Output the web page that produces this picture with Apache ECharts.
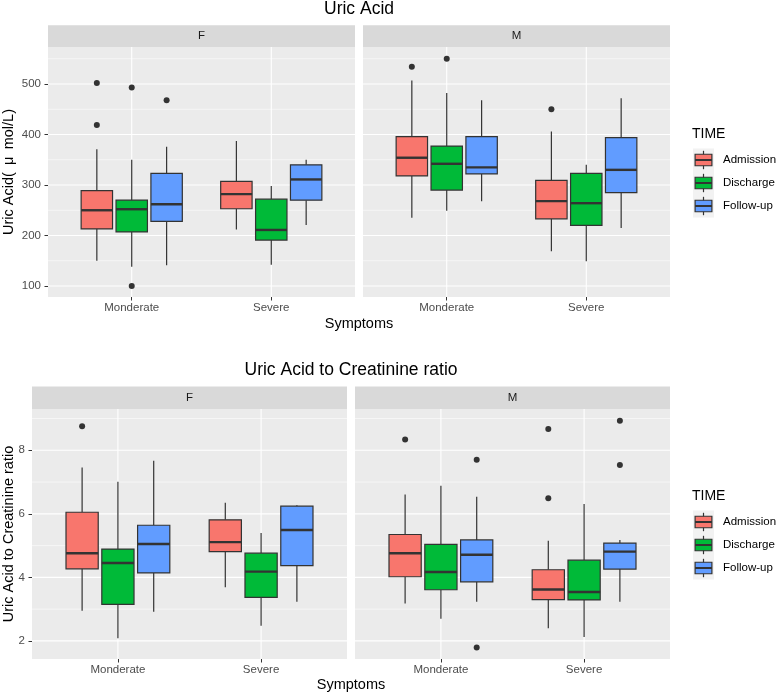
<!DOCTYPE html>
<html><head><meta charset="utf-8">
<script src="https://cdn.jsdelivr.net/npm/echarts@6/dist/echarts.min.js"></script>
<style>html,body{margin:0;padding:0;background:#fff}#c{width:778px;height:696px}</style>
</head><body><div id="c"></div>
<script>
// ---------- DATA ----------
const categories = ['Monderate', 'Severe'];
const timeGroups = ['Admission', 'Discharge', 'Follow-up'];
const sexes = ['F', 'M'];
const timeColors = ['#F8766D', '#00BA38', '#619CFF'];

// Uric acid: [lower whisker, Q1, median, Q3, upper whisker] per category
const uaF_Admission = [[150, 213, 250, 289, 371], [212, 253, 282, 307, 387]];
const uaF_Discharge = [[138, 207, 252, 270, 350], [142, 191, 211, 272, 298]];
const uaF_Followup  = [[141, 228, 262, 323, 376], [221, 270, 311, 340, 350]];
const uaM_Admission = [[235, 318, 354, 396, 507], [169, 233, 268, 309, 406]];
const uaM_Discharge = [[249, 290, 342, 377, 482], [149, 220, 264, 323, 340]];
const uaM_Followup  = [[268, 322, 335, 396, 468], [215, 285, 330, 394, 472]];
// outliers per category
const uaF_Admission_out = [[502, 419], []];
const uaF_Discharge_out = [[493, 100], []];
const uaF_Followup_out  = [[468], []];
const uaM_Admission_out = [[534], [450]];
const uaM_Discharge_out = [[550], []];
const uaM_Followup_out  = [[], []];

// Uric acid to creatinine ratio
const rF_Admission = [[2.95, 4.27, 4.76, 6.05, 7.46], [3.69, 4.81, 5.11, 5.81, 6.35]];
const rF_Discharge = [[2.08, 3.15, 4.45, 4.89, 7.01], [2.48, 3.37, 4.18, 4.76, 5.40]];
const rF_Followup  = [[2.92, 4.14, 5.05, 5.64, 7.67], [3.23, 4.37, 5.49, 6.24, 6.27]];
const rM_Admission = [[3.18, 4.02, 4.76, 5.35, 6.61], [2.40, 3.30, 3.62, 4.24, 5.15]];
const rM_Discharge = [[2.70, 3.61, 4.17, 5.04, 6.88], [2.12, 3.29, 3.54, 4.54, 6.31]];
const rM_Followup  = [[3.23, 3.86, 4.71, 5.18, 6.54], [3.23, 4.26, 4.81, 5.08, 5.18]];
const rF_Admission_out = [[8.76], []];
const rF_Discharge_out = [[], []];
const rF_Followup_out  = [[], []];
const rM_Admission_out = [[8.34], [8.67, 6.49]];
const rM_Discharge_out = [[], []];
const rM_Followup_out  = [[7.70, 1.79], [8.93, 7.54]];

const uaTicks = [100, 200, 300, 400, 500];
const uaMinor = [150, 250, 350, 450, 550];
const ratioTicks = [2, 4, 6, 8];
const ratioMinor = [3, 5, 7, 9];

// ---------- LAYOUT ----------
const FONT = '"Liberation Sans", Arial, Helvetica, sans-serif';
const DODGE = 0.25, BOX_HALF = 0.1125;
const offsets = [-DODGE, 0, DODGE];

const panels = [
  { sex: 'F', stats: [uaF_Admission, uaF_Discharge, uaF_Followup], outs: [uaF_Admission_out, uaF_Discharge_out, uaF_Followup_out],
    ticks: uaTicks, minor: uaMinor, min: 78.2, max: 573.3, showY: true, grid: { left: 48, top: 47, width: 307, height: 250 } },
  { sex: 'M', stats: [uaM_Admission, uaM_Discharge, uaM_Followup], outs: [uaM_Admission_out, uaM_Discharge_out, uaM_Followup_out],
    ticks: uaTicks, minor: uaMinor, min: 78.2, max: 573.3, showY: false, grid: { left: 363, top: 47, width: 307, height: 250 } },
  { sex: 'F', stats: [rF_Admission, rF_Discharge, rF_Followup], outs: [rF_Admission_out, rF_Discharge_out, rF_Followup_out],
    ticks: ratioTicks, minor: ratioMinor, min: 1.43, max: 9.30, showY: true, grid: { left: 32, top: 409, width: 315, height: 250 } },
  { sex: 'M', stats: [rM_Admission, rM_Discharge, rM_Followup], outs: [rM_Admission_out, rM_Discharge_out, rM_Followup_out],
    ticks: ratioTicks, minor: ratioMinor, min: 1.43, max: 9.30, showY: false, grid: { left: 355, top: 409, width: 315, height: 250 } }
];

function boxRenderer(offset, color) {
  return function (params, api) {
    const cx = api.value(0) + offset;
    const yMin = api.coord([cx, api.value(1)])[1];
    const yQ1 = api.coord([cx, api.value(2)])[1];
    const yMed = api.coord([cx, api.value(3)])[1];
    const yQ3 = api.coord([cx, api.value(4)])[1];
    const yMax = api.coord([cx, api.value(5)])[1];
    const xc = api.coord([cx, api.value(3)])[0];
    const xl = api.coord([cx - BOX_HALF, api.value(3)])[0];
    const xr = api.coord([cx + BOX_HALF, api.value(3)])[0];
    const ls = { stroke: '#333333', lineWidth: 1.2 };
    return { type: 'group', children: [
      { type: 'line', shape: { x1: xc, y1: yQ3, x2: xc, y2: yMax }, style: ls },
      { type: 'line', shape: { x1: xc, y1: yQ1, x2: xc, y2: yMin }, style: ls },
      { type: 'rect', shape: { x: xl, y: yQ3, width: xr - xl, height: yQ1 - yQ3 }, style: { fill: color, stroke: '#333333', lineWidth: 1.2 } },
      { type: 'line', shape: { x1: xl, y1: yMed, x2: xr, y2: yMed }, style: { stroke: '#333333', lineWidth: 2.4 } }
    ] };
  };
}

function gridRenderer(params, api) {
  const cs = params.coordSys;
  const kind = api.value(2);
  const p = api.coord([api.value(0), api.value(1)]);
  if (kind === 2) {
    return { type: 'line', shape: { x1: p[0], y1: cs.y, x2: p[0], y2: cs.y + cs.height }, style: { stroke: '#FFFFFF', lineWidth: 1.1 } };
  }
  return { type: 'line', shape: { x1: cs.x, y1: p[1], x2: cs.x + cs.width, y2: p[1] }, style: { stroke: '#FFFFFF', lineWidth: kind === 1 ? 1.1 : 0.55 } };
}

const grids = [], xAxes = [], yAxes = [], series = [], graphics = [];
const catPos = categories.map((c, i) => i + 1);

panels.forEach((pn, gi) => {
  grids.push(Object.assign({ show: true, backgroundColor: '#EBEBEB', borderWidth: 0, outerBoundsMode: 'none', containLabel: false }, pn.grid));
  xAxes.push({
    gridIndex: gi, type: 'value', min: 0.4, max: 2.6,
    axisLine: { show: false }, splitLine: { show: false },
    axisTick: { show: true, length: 3.5, lineStyle: { color: '#333333', width: 1 }, customValues: catPos },
    axisLabel: { show: true, customValues: catPos, formatter: v => categories[Math.round(v) - 1] || '', color: '#4D4D4D', fontSize: 11.5, fontFamily: FONT, margin: 5 }
  });
  yAxes.push({
    gridIndex: gi, type: 'value', min: pn.min, max: pn.max,
    axisLine: { show: false }, splitLine: { show: false },
    axisTick: { show: pn.showY, length: 3.5, lineStyle: { color: '#333333', width: 1 }, customValues: pn.ticks },
    axisLabel: { show: pn.showY, customValues: pn.ticks, color: '#4D4D4D', fontSize: 11.5, fontFamily: FONT, margin: 7 }
  });
  const gdata = pn.minor.map(v => [1, v, 0]).concat(pn.ticks.map(v => [1, v, 1])).concat(catPos.map(c => [c, pn.ticks[1], 2]));
  series.push({ type: 'custom', xAxisIndex: gi, yAxisIndex: gi, z: 1, silent: true, renderItem: gridRenderer, encode: { x: 0, y: 1 }, data: gdata });
  timeGroups.forEach((tg, t) => {
    series.push({
      type: 'custom', name: tg, xAxisIndex: gi, yAxisIndex: gi, z: 2, silent: true,
      renderItem: boxRenderer(offsets[t], timeColors[t]),
      encode: { x: 0, y: [1, 2, 3, 4, 5] },
      data: pn.stats[t].map((s, ci) => [catPos[ci]].concat(s))
    });
    const od = [];
    pn.outs[t].forEach((vals, ci) => vals.forEach(v => od.push([catPos[ci] + offsets[t], v])));
    series.push({ type: 'scatter', xAxisIndex: gi, yAxisIndex: gi, z: 3, silent: true, symbol: 'circle', symbolSize: 6,
      itemStyle: { color: '#333333', opacity: 1 }, data: od });
  });
  // strip
  const g = pn.grid;
  const sh = gi < 2 ? 21.7 : 22.4;
  graphics.push({ type: 'rect', shape: { x: g.left, y: g.top - sh, width: g.width, height: sh }, style: { fill: '#D9D9D9' }, silent: true });
  graphics.push({ type: 'text', x: g.left + g.width / 2, y: g.top - sh / 2, style: { text: pn.sex, fill: '#1A1A1A', font: '11.5px ' + FONT, textAlign: 'center', textVerticalAlign: 'middle' }, silent: true });
});

function addText(txt, x, y, size, opts) {
  graphics.push(Object.assign({ type: 'text', x: x, y: y, silent: true,
    style: { text: txt, fill: '#000000', font: size + 'px ' + FONT, textAlign: 'center', textVerticalAlign: 'middle' } }, opts || {}));
}
// titles
addText('Uric Acid', 359, 9, 17.5);
addText('Uric Acid to Creatinine ratio', 351, 370, 17.5);
// x titles
addText('Symptoms', 359, 324, 14.5);
addText('Symptoms', 351, 685, 14.5);
// y titles
addText('Uric Acid(\u2002\u03BC\u2002mol/L)', 9, 172, 14.5, { rotation: Math.PI / 2 });
addText('Uric Acid to Creatinine ratio', 9, 534, 14.5, { rotation: Math.PI / 2 });

// legends
function addLegend(titleY) {
  graphics.push({ type: 'text', x: 692, y: titleY, silent: true, style: { text: 'TIME', fill: '#000', font: '14px ' + FONT, textAlign: 'left', textVerticalAlign: 'middle' } });
  const kx = 693, kw = 21, kh = 23, top0 = titleY + 14.5;
  graphics.push({ type: 'rect', shape: { x: kx, y: top0, width: kw, height: kh * 3 }, style: { fill: '#F2F2F2' }, silent: true });
  timeGroups.forEach((tg, t) => {
    const ty = top0 + kh * t;
    const cx = kx + kw / 2, cy = ty + kh / 2;
    const ls = { stroke: '#333333', lineWidth: 1.2 };
    graphics.push({ type: 'line', shape: { x1: cx, y1: ty + kh * 0.1, x2: cx, y2: ty + kh * 0.9 }, style: ls, silent: true });
    graphics.push({ type: 'rect', shape: { x: kx + kw * 0.1, y: ty + kh * 0.25, width: kw * 0.8, height: kh * 0.5 }, style: { fill: timeColors[t], stroke: '#333333', lineWidth: 1.2 }, silent: true });
    graphics.push({ type: 'line', shape: { x1: kx + kw * 0.1, y1: cy, x2: kx + kw * 0.9, y2: cy }, style: { stroke: '#333333', lineWidth: 2 }, silent: true });
    graphics.push({ type: 'text', x: 723, y: cy, silent: true, style: { text: tg, fill: '#000', font: '11.5px ' + FONT, textAlign: 'left', textVerticalAlign: 'middle' } });
  });
}
addLegend(134);
addLegend(496);

const chart = echarts.init(document.getElementById('c'), null, { renderer: 'canvas' });
chart.setOption({
  animation: false,
  backgroundColor: '#FFFFFF',
  grid: grids, xAxis: xAxes, yAxis: yAxes, series: series,
  graphic: { elements: graphics }
});
</script></body></html>
